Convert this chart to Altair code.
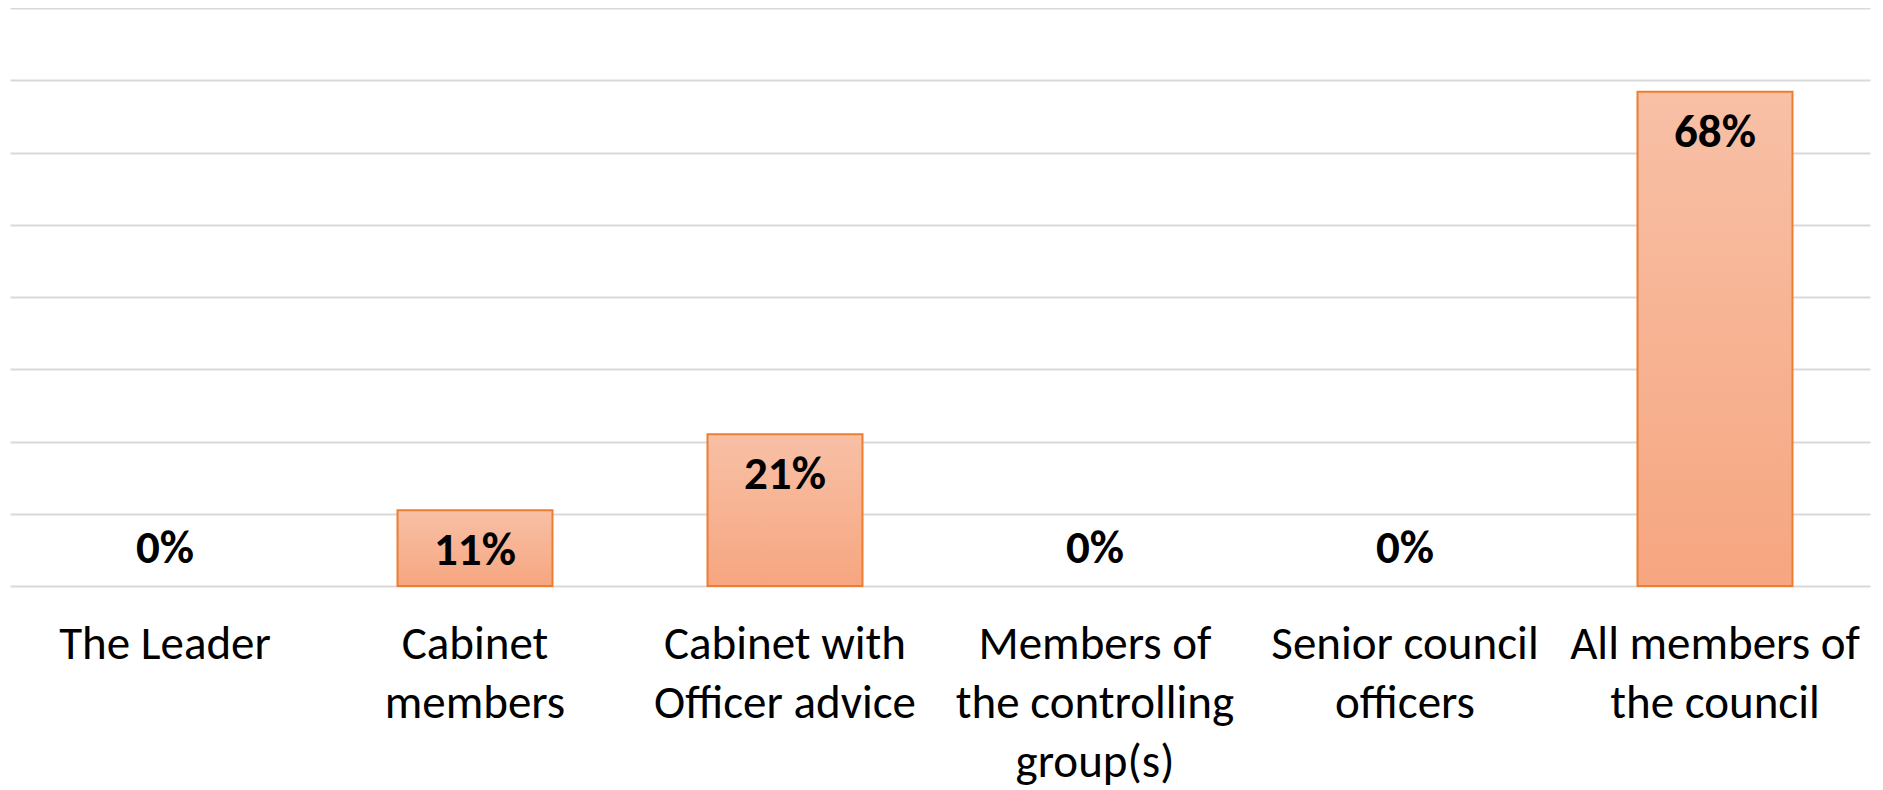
import altair as alt
import pandas as pd

categories = [
    "The Leader",
    "Cabinet|members",
    "Cabinet with|Officer advice",
    "Members of|the controlling|group(s)",
    "Senior council|officers",
    "All members of|the council",
]
values = [0.00, 0.105, 0.21, 0.00, 0.00, 0.684]
labels = ["0%", "11%", "21%", "0%", "0%", "68%"]

df = pd.DataFrame({"cat": categories, "value": values, "label": labels})

FONT = "Carlito, Lato, sans-serif"

x_enc = alt.X(
    "cat:N",
    sort=categories,
    title=None,
    scale=alt.Scale(paddingInner=0.5, paddingOuter=0.25),
    axis=alt.Axis(
        labelExpr="split(datum.label, '|')",
        labelAngle=0,
        labelFontSize=47,
        labelFont=FONT,
        labelColor="#000000",
        labelLineHeight=59,
        labelPadding=35,
        labelLimit=400,
        domain=False,
        ticks=False,
        grid=False,
    ),
)

y_scale = alt.Scale(domain=[0, 0.8], nice=False)
y_axis = alt.Axis(
    values=[0, 0.1, 0.2, 0.3, 0.4, 0.5, 0.6, 0.7, 0.8],
    labels=False,
    ticks=False,
    domain=False,
    title=None,
    grid=True,
    gridColor="#D9D9D9",
    gridWidth=2,
)

gradient = alt.Gradient(
    gradient="linear",
    stops=[
        alt.GradientStop(color="#F8C0A6", offset=0),
        alt.GradientStop(color="#F6A680", offset=1),
    ],
    x1=0, x2=0, y1=0, y2=1,
)

base = alt.Chart(df)

bars = base.transform_filter("datum.value > 0").mark_bar(
    fill=gradient, stroke="#ED7D31", strokeWidth=2
).encode(
    x=x_enc,
    y=alt.Y("value:Q", scale=y_scale, axis=y_axis),
)

grid_holder = base.mark_point(opacity=0).encode(
    x=x_enc,
    y=alt.Y("value:Q", scale=y_scale, axis=y_axis),
)

text_nonzero = base.transform_filter("datum.value > 0").mark_text(
    font=FONT, fontSize=47, fontWeight="bold", color="#000000",
    baseline="middle", dy=41,
).encode(
    x=alt.X("cat:N", sort=categories),
    y=alt.Y("value:Q", scale=y_scale),
    text="label:N",
)

text_zero = base.transform_filter("datum.value == 0").mark_text(
    font=FONT, fontSize=47, fontWeight="bold", color="#000000",
    baseline="middle", dy=-37,
).encode(
    x=alt.X("cat:N", sort=categories),
    y=alt.Y("value:Q", scale=y_scale),
    text="label:N",
)

chart = alt.layer(grid_holder, bars, text_nonzero, text_zero).properties(
    width=1860,
    height=578,
    padding={"left": 2, "top": 0, "right": 5, "bottom": 5},
    background="#FFFFFF",
).configure_view(stroke=None)

chart.save("out.html", embed_options={"renderer": "svg", "actions": False})
